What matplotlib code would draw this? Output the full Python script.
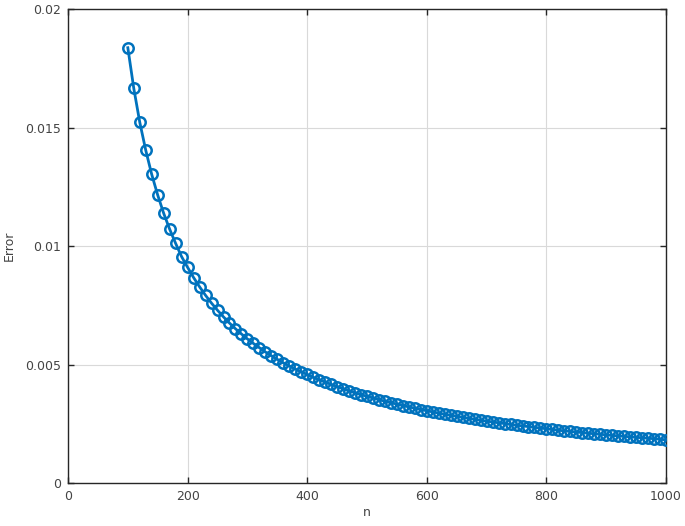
import matplotlib
matplotlib.use("Agg")
import matplotlib.pyplot as plt

# n values and the error
n = [100, 110, 120, 130, 140, 150, 160, 170, 180, 190,
     200, 210, 220, 230, 240, 250, 260, 270, 280, 290,
     300, 310, 320, 330, 340, 350, 360, 370, 380, 390,
     400, 410, 420, 430, 440, 450, 460, 470, 480, 490,
     500, 510, 520, 530, 540, 550, 560, 570, 580, 590,
     600, 610, 620, 630, 640, 650, 660, 670, 680, 690,
     700, 710, 720, 730, 740, 750, 760, 770, 780, 790,
     800, 810, 820, 830, 840, 850, 860, 870, 880, 890,
     900, 910, 920, 930, 940, 950, 960, 970, 980, 990, 1000]
err = [0.01837, 0.01665, 0.01522, 0.01404, 0.01302, 0.01215, 0.01138, 0.01071, 0.01011, 0.00955,
       0.00910, 0.00867, 0.00828, 0.00792, 0.00759, 0.00729, 0.00701, 0.00675, 0.00651, 0.00629,
       0.00608, 0.00589, 0.00571, 0.00553, 0.00537, 0.00522, 0.00507, 0.00494, 0.00481, 0.00469,
       0.00458, 0.00446, 0.00436, 0.00426, 0.00416, 0.00407, 0.00398, 0.00389, 0.00381, 0.00373,
       0.00366, 0.00359, 0.00352, 0.00345, 0.00339, 0.00333, 0.00327, 0.00321, 0.00316, 0.00310,
       0.00305, 0.00300, 0.00295, 0.00290, 0.00286, 0.00282, 0.00277, 0.00273, 0.00269, 0.00265,
       0.00261, 0.00258, 0.00254, 0.00251, 0.00247, 0.00244, 0.00241, 0.00238, 0.00235, 0.00232,
       0.00229, 0.00226, 0.00223, 0.00220, 0.00218, 0.00215, 0.00213, 0.00210, 0.00208, 0.00206,
       0.00203, 0.00201, 0.00199, 0.00197, 0.00195, 0.00193, 0.00191, 0.00189, 0.00187, 0.00185, 0.00182]

xticks = [0, 200, 400, 600, 800, 1000]
yticks = [0, 0.005, 0.01, 0.015, 0.02]
ytick_labels = ["0", "0.005", "0.01", "0.015", "0.02"]

txt = "#444444"
fig = plt.figure(figsize=(6.85, 5.26), dpi=100)
ax = fig.add_axes([0.0993, 0.0817, 0.873, 0.901])

ax.plot(n, err, color="#0072BD", lw=2.0, marker="o", ms=7.5,
        mfc="none", mew=1.8, zorder=3)

ax.set_xlim(0, 1000)
ax.set_ylim(0, 0.02)
ax.set_xticks(xticks)
ax.set_yticks(yticks)
ax.set_yticklabels(ytick_labels)
ax.grid(True, color="#d9d9d9", lw=0.8)
ax.set_axisbelow(True)
ax.tick_params(direction="in", length=4, width=1, colors="#262626",
               labelcolor=txt, labelsize=9, top=True, right=True, pad=5)
for s in ax.spines.values():
    s.set_color("#262626")
    s.set_linewidth(1.0)

ax.set_xlabel("n", color=txt, fontsize=9, labelpad=2)
ax.set_ylabel("Error", color=txt, fontsize=9, labelpad=7)

fig.savefig("out.png", dpi=100)
